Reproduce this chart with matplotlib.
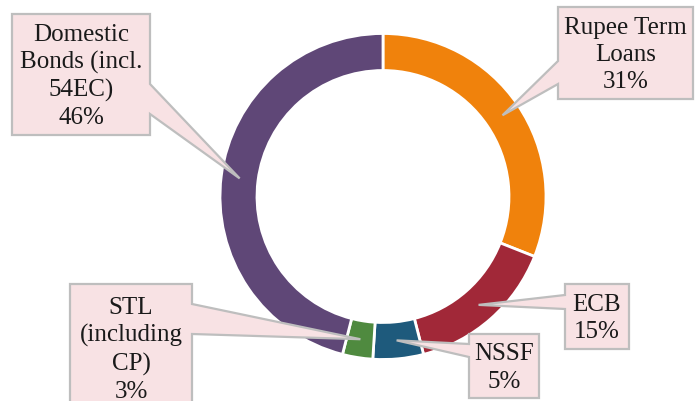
import matplotlib
matplotlib.use('Agg')
import matplotlib.pyplot as plt
from matplotlib.patches import Polygon
import numpy as np

categories = ['Rupee Term\nLoans', 'ECB', 'NSSF', 'STL\n(including\nCP)', 'Domestic\nBonds (incl.\n54EC)']
shares = [31, 15, 5, 3, 46]
colors = ['#F0820C', '#A12838', '#1E5A7C', '#4F8A3F', '#5F4777']

W, H = 696, 402
fig = plt.figure(figsize=(6.96, 4.02), dpi=100)
ax = fig.add_axes([0, 0, 1, 1])
cx, cy, R, ring = 383, H - 197.5, 163, 37
wedges, _ = ax.pie(shares, colors=colors, startangle=90, counterclock=False,
                   radius=R, center=(cx, cy),
                   wedgeprops=dict(width=ring, edgecolor='white', linewidth=2))
ax.set_xlim(0, W)
ax.set_ylim(0, H)
ax.set_aspect('equal')
ax.axis('off')

# callout layout (image pixel coords): x0, y0, x1, y1, side, pointer base y0, y1
layout = [
    (558, 8, 693, 100, 'left', 62, 85),
    (565, 285, 629, 350, 'left', 296, 310),
    (469, 335, 539, 399, 'left', 345, 358),
    (70, 285, 192, 413, 'right', 305, 335),
    (12, 15, 150, 136, 'right', 85, 115),
]

rm = R - ring / 2
for w, name, val, lay in zip(wedges, categories, shares, layout):
    x0, y0, x1, y1, side, b0, b1 = lay
    th = np.deg2rad((w.theta1 + w.theta2) / 2)
    tip = (cx + rm * np.cos(th), cy + rm * np.sin(th))
    f = lambda x, y: (x, H - y)
    if side == 'right':
        verts = [f(x0, y0), f(x1, y0), f(x1, b0), tip, f(x1, b1), f(x1, y1), f(x0, y1)]
    else:
        verts = [f(x0, y0), f(x1, y0), f(x1, y1), f(x0, y1), f(x0, b1), tip, f(x0, b0)]
    ax.add_patch(Polygon(verts, closed=True, facecolor='#F8E2E4', edgecolor='#BEBEBE',
                         linewidth=1.6, zorder=5))
    ax.text((x0 + x1) / 2, H - (y0 + y1) / 2 - 1, f"{name}\n{val}%", ha='center', va='center',
            family='Liberation Serif', fontsize=18, linespacing=1.3, color='#1a1a1a', zorder=6)

fig.savefig('out.png', dpi=100)
